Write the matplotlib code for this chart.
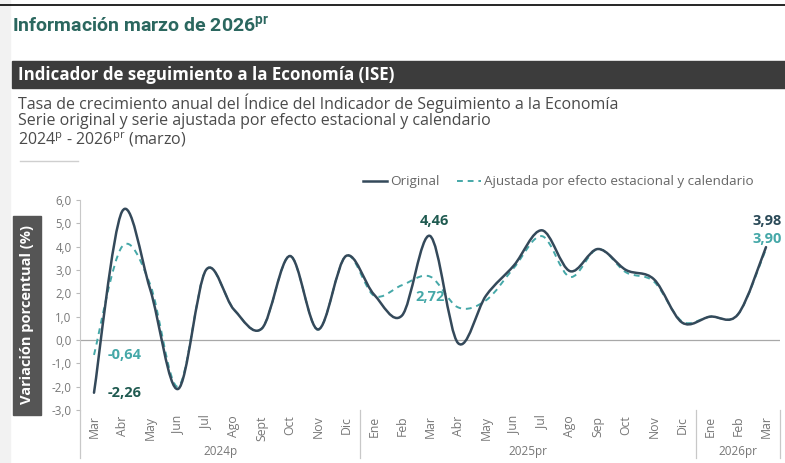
import numpy as np
import matplotlib
matplotlib.use("Agg")
import matplotlib.pyplot as plt
from matplotlib.path import Path
from matplotlib.patches import PathPatch, Rectangle
import matplotlib.transforms as mtransforms

plt.rcParams['font.family'] = ['Open Sans', 'DejaVu Sans']

# data (annual growth, %)
months = ['Mar', 'Abr', 'May', 'Jun', 'Jul', 'Ago', 'Sept', 'Oct', 'Nov', 'Dic',
          'Ene', 'Feb', 'Mar', 'Abr', 'May', 'Jun', 'Jul', 'Ago', 'Sep', 'Oct', 'Nov', 'Dic',
          'Ene', 'Feb', 'Mar']
years = ['2024p', '2025pr', '2026pr']
year_span = [(0, 9), (10, 21), (22, 24)]
original = [-2.26, 5.5, 2.2, -2.1, 3.0, 1.3, 0.5, 3.6, 0.45, 3.6,
            1.95, 1.05, 4.46, -0.13, 1.9, 3.2, 4.7, 2.95, 3.9, 3.0, 2.6, 0.75,
            1.0, 1.1, 3.98]
adjusted = [-0.64, 4.0, 2.4, -2.0, 3.0, 1.3, 0.5, 3.6, 0.45, 3.6,
            1.9, 2.35, 2.72, 1.4, 1.7, 3.1, 4.45, 2.7, 3.9, 2.9, 2.5, 0.8,
            1.0, 1.1, 3.90]

C_ORIG = '#34495a'
C_ADJ = '#45a8a8'
C_DARK_LAB = '#1f5a50'


def smooth_path(xs, ys):
    # excel-like smoothed line built from cubic bezier segments
    pts = np.column_stack([xs, ys]).astype(float)
    n = len(pts)
    verts = [pts[0]]
    codes = [Path.MOVETO]
    for i in range(n - 1):
        p0 = pts[i - 1] if i > 0 else pts[i]
        p1 = pts[i]
        p2 = pts[i + 1]
        p3 = pts[i + 2] if i + 2 < n else pts[i + 1]
        c1 = p1 + (p2 - p0) / 6.0
        c2 = p2 - (p3 - p1) / 6.0
        verts += [c1, c2, p2]
        codes += [Path.CURVE4] * 3
    return Path(verts, codes)


fig = plt.figure(figsize=(7.85, 4.63), dpi=100)
W, H = 785, 463


def fx(px):
    return px / W


def fy(py):
    return 1 - py / H


# page background and header
fig.patches.append(Rectangle((0, 0), fx(10), 1, transform=fig.transFigure,
                             color='#f2f2f2', zorder=0))
fig.add_artist(plt.Line2D([0, 1], [fy(5), fy(5)], color='black', lw=1.2))
fig.text(fx(12), fy(27), r'Información marzo de 2026$^{\mathregular{pr}}$',
         fontsize=14, fontweight='bold', color='#2b675f', va='center',
         family=['Roboto', 'DejaVu Sans'], stretch='condensed')
fig.patches.append(Rectangle((fx(12), fy(88)), 1 - fx(12), fy(61) - fy(88),
                             transform=fig.transFigure, color='#3c3c3c', zorder=1))
fig.text(fx(18), fy(75), 'Indicador de seguimiento a la Economía (ISE)',
         fontsize=12.2, fontweight='bold', color='white', va='center', zorder=2)
sub = ['Tasa de crecimiento anual del Índice del Indicador de Seguimiento a la Economía',
       'Serie original y serie ajustada por efecto estacional y calendario',
       r'2024$^{\mathregular{p}}$ - 2026$^{\mathregular{pr}}$ (marzo)']
for k, s in enumerate(sub):
    fig.text(fx(18), fy(103 + 18.5 * k), s, fontsize=11.5, color='#4a4a4a', va='center')
fig.add_artist(plt.Line2D([fx(20), fx(78)], [fy(161), fy(161)], color='#cfcfcf', lw=1))

# y label box
fig.patches.append(Rectangle((fx(13), fy(415)), fx(41) - fx(13), fy(216) - fy(415),
                             transform=fig.transFigure, color='#555555', zorder=1))
fig.text(fx(27), fy(314), 'Variación porcentual (%)', rotation=90, color='white',
         fontsize=10.5, fontweight='bold', ha='center', va='center', zorder=2)

ax = fig.add_axes([fx(80), fy(410), fx(780) - fx(80), fy(200) - fy(410)])
x = np.arange(len(months))

ax.add_patch(PathPatch(smooth_path(x, original), fill=False, edgecolor=C_ORIG,
                       lw=1.8, zorder=4, capstyle='round', joinstyle='round'))
ax.add_patch(PathPatch(smooth_path(x, adjusted), fill=False, edgecolor=C_ADJ,
                       lw=1.4, ls=(0, (3, 2.5)), zorder=3))
# legend handles
ax.plot([], [], color=C_ORIG, lw=1.8, label='Original')
ax.plot([], [], color=C_ADJ, lw=1.4, ls=(0, (3, 2.5)), label='Ajustada por efecto estacional y calendario')
leg = ax.legend(loc='lower right', bbox_to_anchor=(0.97, 1.03), ncol=2, frameon=False,
                fontsize=9.7, handlelength=1.8, handletextpad=0.2, columnspacing=1.3,
                borderaxespad=0)
for t in leg.get_texts():
    t.set_color('#666666')

ax.axhline(0, color='#a8a8a8', lw=0.9, zorder=2)
ax.set_xlim(-0.5, len(months) - 0.5)
ax.set_ylim(-3, 6)
ax.set_yticks(np.arange(-3, 7, 1))
ax.set_yticklabels([f'{v:.1f}'.replace('.', ',') for v in np.arange(-3, 7, 1)])
ax.set_xticks(x)
ax.set_xticklabels(months, rotation=90)
ax.tick_params(axis='x', length=0, pad=4, labelsize=8.8, labelcolor='#777777')
ax.tick_params(axis='y', length=3, width=0.8, color='#bbbbbb', pad=3,
               labelsize=8.3, labelcolor='#777777')
for s in ['top', 'right', 'bottom']:
    ax.spines[s].set_visible(False)
ax.spines['left'].set_color('#c8c8c8')

# year groups below axis
trans = mtransforms.blended_transform_factory(ax.transData, ax.transAxes)
for (a, b), yl in zip(year_span, years):
    ax.text((a + b) / 2, -0.2, yl, transform=trans, ha='center', va='center',
            fontsize=8.5, color='#777777', clip_on=False)
for sep in [-0.5, 9.5, 21.5, 24.5]:
    ax.plot([sep, sep], [0, -0.23], transform=trans, color='#c8c8c8', lw=0.9,
            clip_on=False)

# data labels
lab = dict(fontsize=10.5, fontweight='bold', textcoords='offset points', clip_on=False)
ax.annotate('-2,26', (0, original[0]), xytext=(10, 0), color=C_DARK_LAB, ha='left', va='center', **lab)
ax.annotate('-0,64', (0, adjusted[0]), xytext=(10, 0), color=C_ADJ, ha='left', va='center', **lab)
ax.annotate('4,46', (12, original[12]), xytext=(3, 6), color=C_DARK_LAB, ha='center', va='bottom', **lab)
ax.annotate('2,72', (12, adjusted[12]), xytext=(0, -10), color=C_ADJ, ha='center', va='top', **lab)
ax.annotate('3,98', (24, original[24]), xytext=(-10, 14), color='#2b4a58', ha='left', va='bottom', **lab)
ax.annotate('3,90', (24, adjusted[24]), xytext=(-10, 12), color=C_ADJ, ha='left', va='top', **lab)

fig.savefig('out.png', dpi=100)
